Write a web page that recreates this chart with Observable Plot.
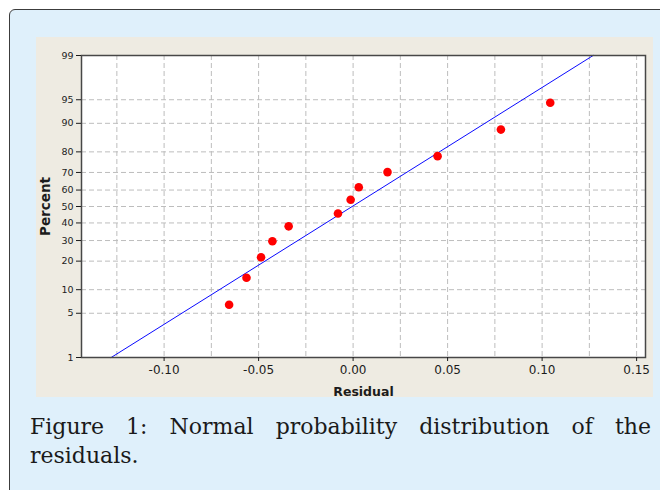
<!DOCTYPE html>
<html>
<head>
<meta charset="utf-8">
<script src="https://cdn.jsdelivr.net/npm/d3@7"></script>
<script src="https://cdn.jsdelivr.net/npm/@observablehq/plot@0.6"></script>
<style>
  html, body { margin: 0; padding: 0; background: #ffffff; width: 660px; height: 490px; overflow: hidden; }
  #outer { position: absolute; left: 9px; top: 9px; width: 720px; height: 540px; border: 1.5px solid #3c3c3c; border-radius: 6px; background: #dff0fb; }
  #panel { position: absolute; left: 36px; top: 37px; width: 617px; height: 360px; background: #eeebe2; }
  #caption { position: absolute; left: 30px; top: 412px; width: 621px; font-family: "DejaVu Serif", serif; font-size: 22px; line-height: 29px; text-align: justify; color: #1a1a1a; }
  g[aria-label="x-axis label"] text, g[aria-label="y-axis label"] text { font-weight: bold; }
</style>
</head>
<body>
<div id="outer"></div>
<div id="panel"></div>
<div id="caption">Figure 1: Normal probability distribution of the residuals.</div>
<script>
// Data
const residual = [-0.0656, -0.0564, -0.0487, -0.0427, -0.0341, -0.0080, -0.0013, 0.0030, 0.0182, 0.0447, 0.0782, 0.1043];
const percent  = [6.5, 13.6, 21.7, 29.6, 38.0, 45.7, 54.1, 61.7, 70.2, 78.1, 88.2, 94.5];
const fitResidual = [-0.128, 0.127];
const fitPercent  = [1, 99];
const yTickPercents = [1, 5, 10, 20, 30, 40, 50, 60, 70, 80, 90, 95, 99];
const xTickValues = [-0.10, -0.05, 0.00, 0.05, 0.10, 0.15];
const xGridValues = [-0.125, -0.10, -0.075, -0.05, -0.025, 0.00, 0.025, 0.05, 0.075, 0.10, 0.125, 0.15];

// inverse normal CDF (probability scale transform)
function probit(p) {
  const a=[-3.969683028665376e+01,2.209460984245205e+02,-2.759285104469687e+02,1.383577518672690e+02,-3.066479806614716e+01,2.506628277459239e+00];
  const b=[-5.447609879822406e+01,1.615858368580409e+02,-1.556989798598866e+02,6.680131188771972e+01,-1.328068155288572e+01];
  const c=[-7.784894002430293e-03,-3.223964580411365e-01,-2.400758277161838e+00,-2.549732539343734e+00,4.374664141464968e+00,2.938163982698783e+00];
  const d=[7.784695709041462e-03,3.224671290700398e-01,2.445134137142996e+00,3.754408661907416e+00];
  const pl = 0.02425, ph = 1 - pl;
  let q, r;
  if (p < pl) { q = Math.sqrt(-2*Math.log(p)); return (((((c[0]*q+c[1])*q+c[2])*q+c[3])*q+c[4])*q+c[5])/((((d[0]*q+d[1])*q+d[2])*q+d[3])*q+1); }
  if (p > ph) { q = Math.sqrt(-2*Math.log(1-p)); return -(((((c[0]*q+c[1])*q+c[2])*q+c[3])*q+c[4])*q+c[5])/((((d[0]*q+d[1])*q+d[2])*q+d[3])*q+1); }
  q = p - 0.5; r = q*q;
  return (((((a[0]*r+a[1])*r+a[2])*r+a[3])*r+a[4])*r+a[5])*q/(((((b[0]*r+b[1])*r+b[2])*r+b[3])*r+b[4])*r+1);
}
const z = (pct) => probit(pct / 100);

const points = residual.map((r, i) => ({r, z: z(percent[i])}));
const fit = fitResidual.map((r, i) => ({r, z: z(fitPercent[i])}));
const yTicksZ = yTickPercents.map(z);
const yGridZ = yTickPercents.slice(1, -1).map(z);
const yLabel = (v) => {
  const i = yTicksZ.findIndex(t => Math.abs(t - v) < 1e-9);
  return i >= 0 ? String(yTickPercents[i]) : "";
};

const gridStyle = {stroke: "#bdbdbd", strokeOpacity: 1, strokeWidth: 1, strokeDasharray: "5,3"};

const chart = Plot.plot({
  width: 617,
  height: 360,
  marginLeft: 45,
  marginRight: 8,
  marginTop: 18,
  marginBottom: 40,
  style: {background: "transparent", fontFamily: "DejaVu Sans, sans-serif", fontSize: "9.5px", color: "#1c1c1c", overflow: "visible"},
  x: {domain: [-0.1437, 0.1547]},
  y: {domain: [z(1), z(99)]},
  marks: [
    Plot.frame({fill: "#ffffff", stroke: "none"}),
    Plot.gridX(xGridValues, gridStyle),
    Plot.gridY(yGridZ, gridStyle),
    Plot.line(fit, {x: "r", y: "z", stroke: "#0a0aff", strokeWidth: 1}),
    Plot.dot(points, {x: "r", y: "z", r: 4.3, fill: "#ff0000", stroke: "none"}),
    Plot.frame({stroke: "#474747", strokeWidth: 1.5}),
    Plot.axisX(xTickValues, {
      tickSize: 4, tickPadding: 4, fontSize: 12,
      tickFormat: d => d.toFixed(2),
      label: "Residual", labelAnchor: "center", labelOffset: 38, labelArrow: "none"
    }),
    Plot.axisY(yTicksZ, {
      tickSize: 5, tickPadding: 3, fontSize: 9.5,
      tickFormat: yLabel,
      label: "Percent", labelAnchor: "center", labelOffset: 41, labelArrow: "none"
    })
  ]
});
chart.style.position = "absolute";
chart.style.left = "36px";
chart.style.top = "37px";
document.body.appendChild(chart);

// axis label font sizes
chart.querySelectorAll('g[aria-label="x-axis label"] text').forEach(t => t.setAttribute("font-size", "12.5"));
chart.querySelectorAll('g[aria-label="y-axis label"] text').forEach(t => t.setAttribute("font-size", "13.5"));
</script>
</body>
</html>
